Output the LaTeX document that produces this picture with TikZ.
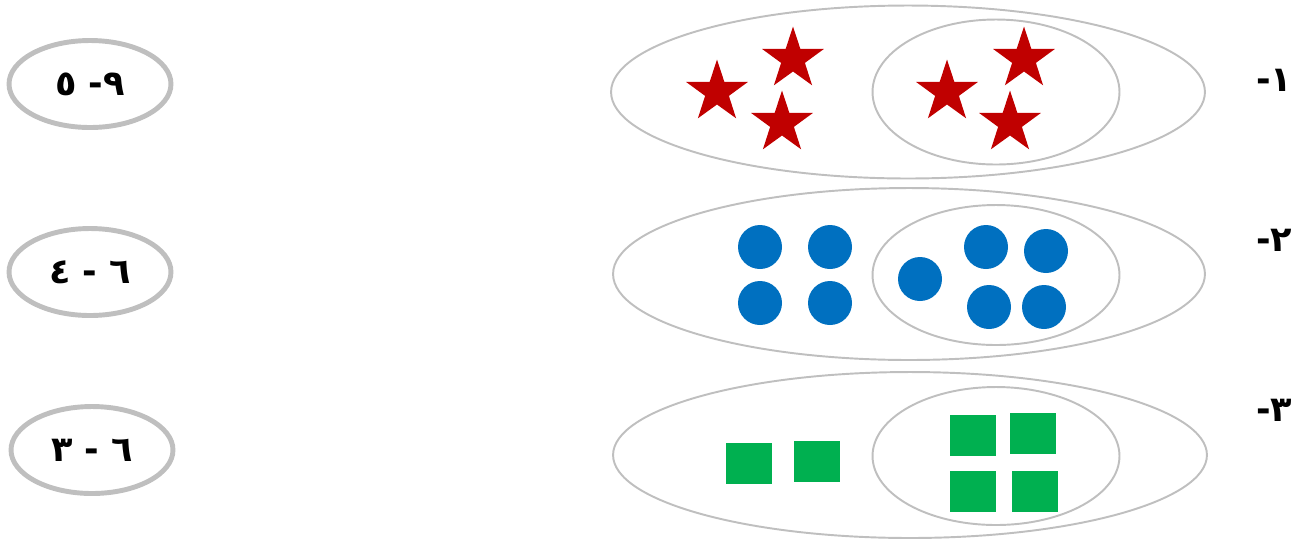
\documentclass[tikz,border=0pt]{standalone}
\usepackage{fontspec}
\usetikzlibrary{shapes.geometric}
\TeXXeTstate=1
\newfontfamily\arabicfont[Script=Arabic]{DejaVu Sans}
\definecolor{ringgray}{HTML}{BFBFBF}
\definecolor{starred}{HTML}{C00000}
\definecolor{dotblue}{HTML}{0070C0}
\definecolor{boxgreen}{HTML}{00B050}
\tikzset{
  group/.style={draw=ringgray, line width=1.1pt, ellipse, inner sep=0pt},
  answer/.style={draw=ringgray, line width=2.8pt, ellipse, inner sep=0pt,
    minimum width=3.24cm, minimum height=1.74cm,
    font=\arabicfont\bfseries\fontsize{20}{24}\selectfont},
  num/.style={inner sep=0pt, font=\arabicfont\bfseries\fontsize{20}{24}\selectfont},
  redstar/.style={star, star points=5, star point ratio=2.6, fill=starred,
    inner sep=0pt, minimum size=1.3cm},
  bluedot/.style={circle, fill=dotblue, inner sep=0pt, minimum size=0.88cm},
  greenbox/.style={rectangle, fill=boxgreen, inner sep=0pt,
    minimum width=0.92cm, minimum height=0.82cm}
}
\begin{document}
\begin{tikzpicture}[x=0.02cm,y=-0.02cm]
\useasboundingbox (0,0) rectangle (1301,539);

% answers on the left
\node[answer] (q1) at (90,84) {\beginR ٩- ٥\endR};
\node[answer] (q2) at (90,272) {\beginR ٦ - ٤\endR};
\node[answer] (q3) at (92,450) {\beginR ٦ - ٣\endR};

% row numbers on the right
\node[num] (n1) at (1274,80) {\beginR ١-\endR};
\node[num] (n2) at (1274,240) {\beginR ٢-\endR};
\node[num] (n3) at (1274,410) {\beginR ٣-\endR};

% row 1: stars
\node[group, minimum width=11.88cm, minimum height=3.46cm] (all1) at (908,92) {};
\node[group, minimum width=4.94cm, minimum height=2.9cm] (part1) at (996,92) {};
\node[redstar] (s1) at (717,92) {};
\node[redstar] (s2) at (793,59) {};
\node[redstar] (s3) at (782,123) {};
\node[redstar] (s4) at (947,92) {};
\node[redstar] (s5) at (1024,59) {};
\node[redstar] (s6) at (1010,123) {};

% row 2: dots
\node[group, minimum width=11.84cm, minimum height=3.44cm] (all2) at (909,274) {};
\node[group, minimum width=4.94cm, minimum height=2.8cm] (part2) at (996,275) {};
\node[bluedot] (d1) at (760,247) {};
\node[bluedot] (d2) at (830,247) {};
\node[bluedot] (d3) at (760,303) {};
\node[bluedot] (d4) at (830,303) {};
\node[bluedot] (d5) at (920,279) {};
\node[bluedot] (d6) at (986,247) {};
\node[bluedot] (d7) at (1046,251) {};
\node[bluedot] (d8) at (989,307) {};
\node[bluedot] (d9) at (1044,307) {};

% row 3: boxes
\node[group, minimum width=11.88cm, minimum height=3.32cm] (all3) at (910,455) {};
\node[group, minimum width=4.94cm, minimum height=2.76cm] (part3) at (996,456) {};
\node[greenbox] (b1) at (749,463) {};
\node[greenbox] (b2) at (817,461) {};
\node[greenbox] (b3) at (973,435) {};
\node[greenbox] (b4) at (1033,433) {};
\node[greenbox] (b5) at (973,491) {};
\node[greenbox] (b6) at (1035,491) {};
\end{tikzpicture}
\end{document}
